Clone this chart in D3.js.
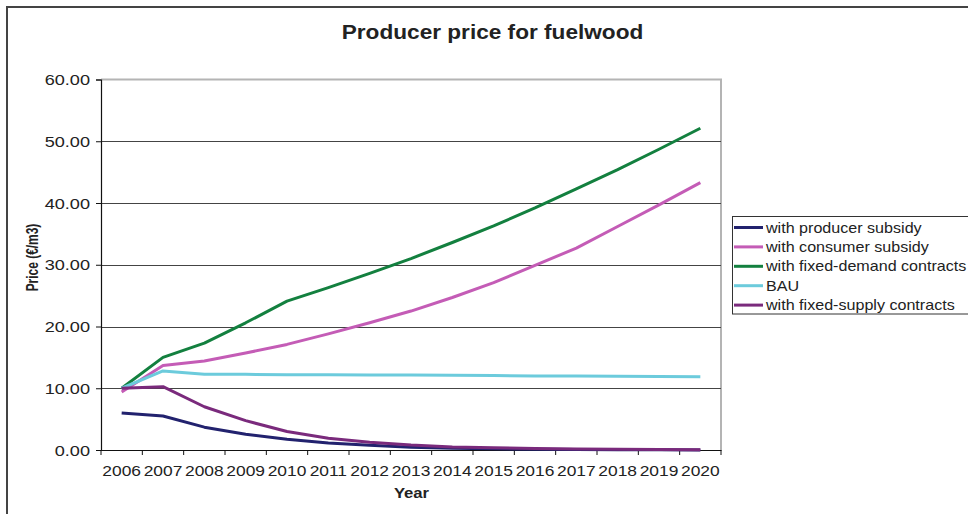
<!DOCTYPE html>
<html>
<head>
<meta charset="utf-8">
<script src="https://cdn.jsdelivr.net/npm/d3@7"></script>
<style>
  html, body { margin: 0; padding: 0; background: #fff; }
  svg { display: block; font-family: "Liberation Sans", Arial, sans-serif; }
</style>
</head>
<body>
<svg id="chart" width="968" height="514"></svg>
<script>
// Producer price for fuelwood under different policy scenarios (€/m3)
const years = ["2006","2007","2008","2009","2010","2011","2012","2013","2014","2015","2016","2017","2018","2019","2020"];

const producerSubsidy = [6.0, 5.5, 3.7, 2.55, 1.75, 1.15, 0.75, 0.45, 0.3, 0.2, 0.12, 0.08, 0.05, 0.03, 0.02];
const consumerSubsidy = [9.4, 13.7, 14.4, 15.7, 17.1, 18.8, 20.6, 22.5, 24.7, 27.1, 29.9, 32.7, 36.2, 39.7, 43.3];
const fixedDemand     = [10.0, 15.0, 17.3, 20.6, 24.1, 26.3, 28.6, 31.0, 33.6, 36.3, 39.2, 42.3, 45.4, 48.7, 52.1];
const bau             = [10.0, 12.8, 12.25, 12.25, 12.2, 12.2, 12.15, 12.15, 12.1, 12.05, 12.0, 12.0, 11.95, 11.9, 11.85];
const fixedSupply     = [10.0, 10.25, 7.0, 4.75, 3.0, 1.9, 1.25, 0.8, 0.5, 0.35, 0.25, 0.18, 0.12, 0.08, 0.05];

const seriesNames  = ["with producer subsidy", "with consumer subsidy", "with fixed-demand contracts", "BAU", "with fixed-supply contracts"];
const seriesValues = [producerSubsidy, consumerSubsidy, fixedDemand, bau, fixedSupply];
const seriesColors = ["#22226e", "#c45cb6", "#13803f", "#6ccbdc", "#7a2a7c"];

const yTicks = [0, 10, 20, 30, 40, 50, 60];

const svg = d3.select("#chart");

// Text helper: glyphs are drawn slightly wide, like the original export
function label(g, x, y, txt, opts) {
  const o = Object.assign({size: 13, sx: 1.2, sy: 1, anchor: "middle", weight: "normal", rotate: 0, fill: "#222"}, opts || {});
  return g.append("text")
    .attr("transform", `translate(${x},${y}) rotate(${o.rotate}) scale(${o.sx},${o.sy})`)
    .attr("text-anchor", o.anchor)
    .attr("font-size", o.size)
    .attr("font-weight", o.weight)
    .attr("fill", o.fill)
    .text(txt);
}

// Outer chart frame
svg.append("path")
  .attr("d", "M7,520 L7,7 L975,7")
  .attr("fill", "none")
  .attr("stroke", "#444")
  .attr("stroke-width", 2);

const plot = {left: 101, right: 721, top: 79.5, bottom: 450};

const x = d3.scaleBand().domain(years).range([plot.left, plot.right]);
const y = d3.scaleLinear().domain([0, 60]).range([plot.bottom, plot.top]);

// Plot area border (top and right)
svg.append("path")
  .attr("d", `M${plot.left},${plot.top} L${plot.right},${plot.top} L${plot.right},${plot.bottom}`)
  .attr("fill", "none")
  .attr("stroke", "#b4b4b4")
  .attr("stroke-width", 2);

// Horizontal gridlines
svg.append("g")
  .selectAll("line")
  .data(yTicks.filter(t => t > 0 && t < 60))
  .join("line")
  .attr("x1", plot.left).attr("x2", plot.right)
  .attr("y1", d => Math.round(y(d)) + 0.5).attr("y2", d => Math.round(y(d)) + 0.5)
  .attr("stroke", "#444")
  .attr("stroke-width", 1);

// Y axis
const yAxis = svg.append("g")
  .attr("transform", `translate(${plot.left},0)`)
  .call(d3.axisLeft(y).tickValues(yTicks).tickSize(5).tickFormat(() => ""));
yAxis.select(".domain").attr("stroke", "#111").attr("stroke-width", 1.2);
yAxis.selectAll(".tick line").attr("stroke", "#111");
yTicks.forEach(t => label(svg, 90, y(t) + 5.5, d3.format(".2f")(t), {anchor: "end", size: 14.5, sx: 1.25}));

// X axis: ticks sit on the category boundaries
const xAxis = svg.append("g")
  .attr("transform", `translate(0,${plot.bottom})`)
  .call(d3.axisBottom(x).tickSize(0).tickFormat(() => ""));
xAxis.select(".domain").attr("stroke", "#111").attr("stroke-width", 1.2);
svg.append("g")
  .selectAll("line")
  .data(years.map(yr => x(yr)).concat([plot.right]))
  .join("line")
  .attr("x1", d => d).attr("x2", d => d)
  .attr("y1", plot.bottom).attr("y2", plot.bottom + 5)
  .attr("stroke", "#111");
years.forEach(yr => label(svg, x(yr) + x.bandwidth() / 2, 475.5, yr, {size: 14.5, sx: 1.2}));

// Axis titles
label(svg, 411.5, 498, "Year", {size: 14.5, sx: 1.15, weight: "bold"});
label(svg, 37.5, 257.5, "Price (€/m3)", {size: 13, sx: 0.92, sy: 1.2, weight: "bold", rotate: -90});

// Title
label(svg, 492.5, 39, "Producer price for fuelwood", {size: 19.5, sx: 1.16, weight: "bold"});

// Series lines
const line = d3.line()
  .x((d, i) => x(years[i]) + x.bandwidth() / 2)
  .y(d => y(d));

svg.append("g")
  .selectAll("path")
  .data(seriesValues)
  .join("path")
  .attr("d", d => line(d))
  .attr("fill", "none")
  .attr("stroke", (d, i) => seriesColors[i])
  .attr("stroke-width", 3)
  .attr("stroke-linejoin", "round");

// Legend
const legend = svg.append("g");
legend.append("rect")
  .attr("x", 732.5).attr("y", 216.5)
  .attr("width", 260).attr("height", 97.5)
  .attr("fill", "#fff")
  .attr("stroke", "#333")
  .attr("stroke-width", 1);
seriesNames.forEach((name, i) => {
  const ly = 227.5 + i * 19.4;
  legend.append("line")
    .attr("x1", 734).attr("x2", 763)
    .attr("y1", ly).attr("y2", ly)
    .attr("stroke", seriesColors[i])
    .attr("stroke-width", 3);
  label(legend, 766, ly + 5, name, {anchor: "start", size: 14, sx: 1.15});
});
</script>
</body>
</html>
